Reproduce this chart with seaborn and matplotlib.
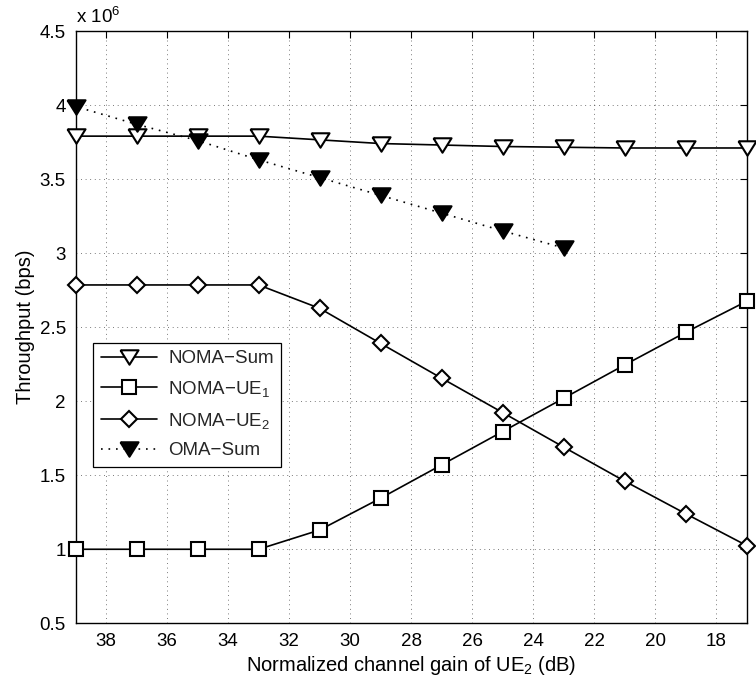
import matplotlib
matplotlib.use("Agg")
import matplotlib.pyplot as plt
from matplotlib.ticker import FixedLocator, FuncFormatter
import seaborn as sns
import pandas as pd

# Channel gain of UE2 (dB)
gain_db = [39, 37, 35, 33, 31, 29, 27, 25, 23, 21, 19, 17]
# Throughput in units of 10^6 bps
noma_sum = [3.79, 3.79, 3.79, 3.79, 3.765, 3.74, 3.73, 3.72, 3.715, 3.71, 3.71, 3.71]
noma_ue1 = [1.00, 1.00, 1.00, 1.00, 1.13, 1.345, 1.57, 1.795, 2.02, 2.245, 2.465, 2.675]
noma_ue2 = [2.785, 2.785, 2.785, 2.785, 2.627, 2.39, 2.155, 1.923, 1.69, 1.46, 1.24, 1.025]
oma_gain_db = [39, 37, 35, 33, 31, 29, 27, 25, 23]
oma_sum = [3.99, 3.87, 3.76, 3.63, 3.51, 3.39, 3.27, 3.15, 3.035]

x_ticks = [38, 36, 34, 32, 30, 28, 26, 24, 22, 20, 18]
y_ticks = [0.5, 1.0, 1.5, 2.0, 2.5, 3.0, 3.5, 4.0, 4.5]

sns.set_theme(style="white")
plt.rcParams["font.family"] = ["Liberation Sans", "DejaVu Sans"]
plt.rcParams["mathtext.fontset"] = "custom"
plt.rcParams["mathtext.rm"] = "Liberation Sans"
plt.rcParams["mathtext.it"] = "Liberation Sans"
plt.rcParams["mathtext.default"] = "rm"

fig = plt.figure(figsize=(7.56, 6.86), dpi=100)
ax = fig.add_axes([0.1, 0.0914, 0.8877, 0.8634])

df = pd.DataFrame({"gain": gain_db, "sum": noma_sum, "ue1": noma_ue1, "ue2": noma_ue2})
df_oma = pd.DataFrame({"gain": oma_gain_db, "sum": oma_sum})

tri_down = [(-1, 0.8), (1, 0.8), (0, -0.8), (-1, 0.8)]

common = dict(color="black", linewidth=1.2, markeredgecolor="black",
              markeredgewidth=1.5, clip_on=False, zorder=5)

sns.lineplot(data=df, x="gain", y="sum", ax=ax, marker=tri_down, markersize=13,
             markerfacecolor="white", label="NOMA\u2212Sum", **common)
sns.lineplot(data=df, x="gain", y="ue1", ax=ax, marker="s", markersize=9.5,
             markerfacecolor="white", label="NOMA\u2212UE$_1$", **common)
sns.lineplot(data=df, x="gain", y="ue2", ax=ax, marker="D", markersize=8.5,
             markerfacecolor="white", label="NOMA\u2212UE$_2$", **common)
sns.lineplot(data=df_oma, x="gain", y="sum", ax=ax, marker=tri_down, markersize=13,
             markerfacecolor="black", linestyle=(0, (1, 3.5)),
             label="OMA\u2212Sum", **common)

ax.set_xlim(39, 17)
ax.set_ylim(0.5, 4.5)
ax.xaxis.set_major_locator(FixedLocator(x_ticks))
ax.yaxis.set_major_locator(FixedLocator(y_ticks))
ax.yaxis.set_major_formatter(FuncFormatter(lambda v, p: f"{v:g}"))

ax.grid(True, color="black", linestyle=(0, (1, 4.5)), linewidth=0.6, alpha=0.7)
ax.tick_params(axis="both", direction="in", length=5, width=0.8, color="black",
               top=True, right=True, labelsize=13.5, labelcolor="black", pad=7)
for s in ax.spines.values():
    s.set_color("black")
    s.set_linewidth(1.0)
    s.set_visible(True)

ax.set_xlabel("Normalized channel gain of UE$_2$ (dB)", fontsize=14.5, color="black", labelpad=3)
ax.set_ylabel("Throughput (bps)", fontsize=14.5, color="black", labelpad=3)

ax.text(0.0, 1.006, "x 10$^6$", transform=ax.transAxes, fontsize=13.5,
        ha="left", va="bottom", color="black")

leg = ax.legend(loc="lower left", bbox_to_anchor=(0.026, 0.264), fontsize=13.5,
                frameon=True, fancybox=False, edgecolor="black", framealpha=1,
                handlelength=3.0, borderpad=0.4, labelspacing=0.62,
                handletextpad=0.6, borderaxespad=0)
leg.get_frame().set_linewidth(0.9)

fig.savefig("out.png", dpi=100)
